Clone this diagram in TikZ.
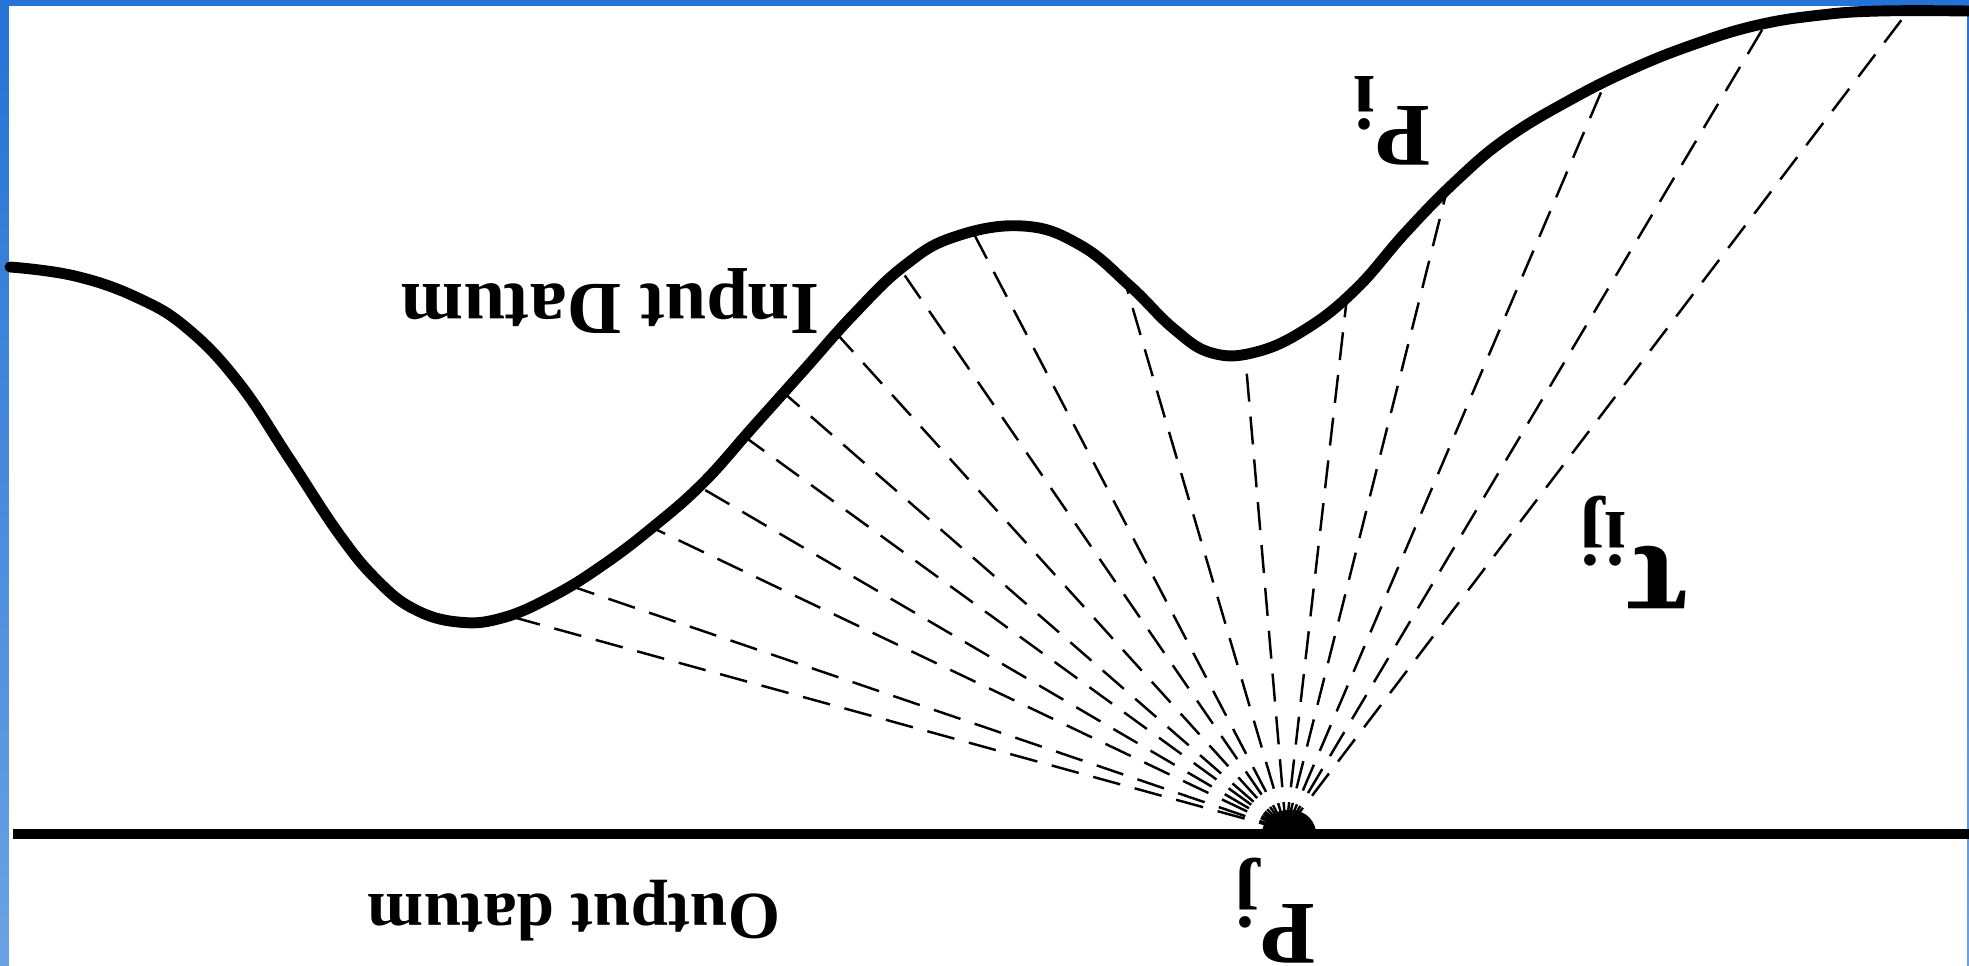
\documentclass[tikz,border=0pt]{standalone}
\usepackage{fontspec}
\setmainfont{Liberation Serif}
\begin{document}
\begin{tikzpicture}[x=0.1mm,y=-0.1mm]
\definecolor{frameblue}{RGB}{36,115,214}
\definecolor{framelight}{RGB}{106,162,228}
\tikzset{
  ray/.style={line width=0.7pt, dash pattern=on 2.8mm off 1.5mm},
  datum/.style={line width=3.1pt, line cap=round, line join=round},
  lbl/.style={rotate=180, inner sep=0pt, font=\bfseries}
}
\useasboundingbox (0,0) rectangle (1969,966);
\shade[top color=frameblue, bottom color=framelight] (0,0) rectangle (1969,966);
\fill[white] (9,6) rectangle (1967,966);

% apex and end points of the rays
\coordinate (apex) at (1286,830);
\coordinate (e1) at (509,616);
\coordinate (e2) at (571,586);
\coordinate (e3) at (653,528);
\coordinate (e4) at (700,487);
\coordinate (e5) at (745,437);
\coordinate (e6) at (784,393);
\coordinate (e7) at (837,334);
\coordinate (e8) at (901,270);
\coordinate (e9) at (975,236);
\coordinate (e10) at (1125,282);
\coordinate (e11) at (1245,353);
\coordinate (e12) at (1347,297);
\coordinate (e13) at (1447,190);
\coordinate (e14) at (1605,83);
\coordinate (e15) at (1765,25);
\coordinate (e16) at (1906,14);

\foreach \e in {e1,e2,e3,e4,e5,e6,e7,e8,e9,e10,e11,e12,e13,e14,e15,e16}
  \draw[ray] (apex) -- (\e);

\fill (1262,831) .. controls (1265,816) and (1276,810) .. (1289,810)
  .. controls (1302,810) and (1313,816) .. (1316,831) -- cycle;

% output datum
\coordinate (b0) at (13,834);
\coordinate (b1) at (1969,834);
\draw[datum, line cap=butt] (b0) -- (b1);

% input datum
\draw[datum] plot[smooth, tension=0.7] coordinates {
  (10,267) (75,276) (138,298) (188,329) (239,383) (289,458) (339,534)
  (377,580) (414,609) (458,622) (502,618) (553,596) (603,565) (653,527)
  (703,483) (753,427) (804,370) (854,314) (904,266) (954,237) (1023,226)
  (1080,245) (1130,286) (1174,329) (1212,353) (1256,352) (1306,329)
  (1356,289) (1406,232) (1457,180) (1507,138) (1570,100) (1632,69)
  (1695,44) (1758,25) (1821,15) (1880,11) (1969,11)};

\node[lbl, font=\fontsize{21.3}{24}\selectfont\bfseries] (inp) at (610,301) {Input Datum};
\node[lbl, font=\fontsize{19.1}{22}\selectfont\bfseries] (outp) at (574,911) {Output datum};
\node[lbl] (pi) at (1392,121) {\fontsize{25.5}{28}\selectfont P\raisebox{-3mm}{\fontsize{22}{24}\selectfont i}};
\node[lbl] (pj) at (1275,911) {\fontsize{25.5}{28}\selectfont P\raisebox{-3mm}{\fontsize{22}{24}\selectfont j}};
\node[lbl] (tau) at (1634,552) {\fontsize{38}{42}\selectfont τ\raisebox{-3.5mm}{\fontsize{22}{24}\selectfont ij}};
\end{tikzpicture}
\end{document}
